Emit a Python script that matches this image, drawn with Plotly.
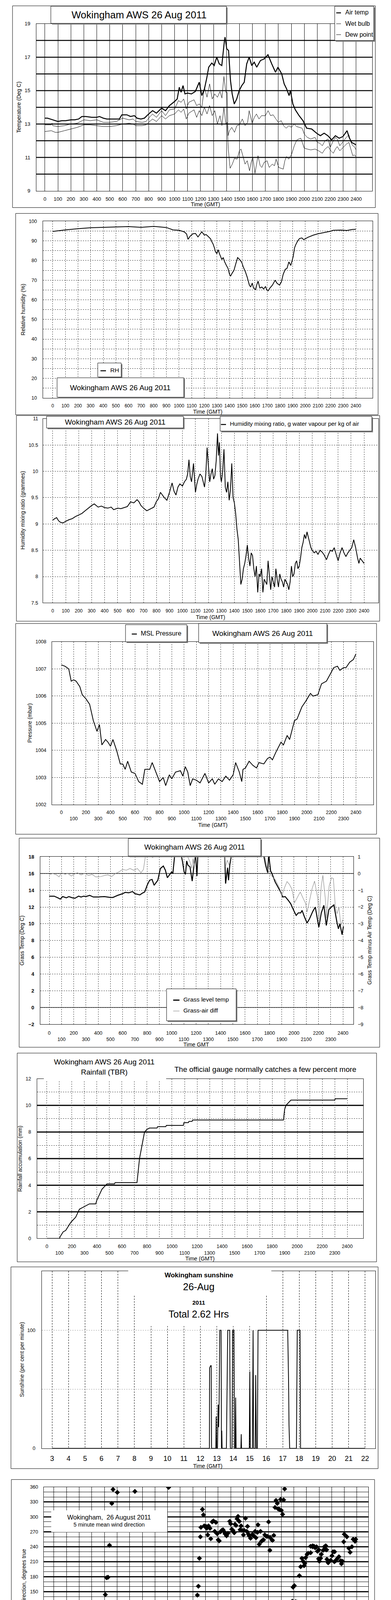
import plotly.graph_objects as go

W, H = 1000, 5000
FONT = "Liberation Sans, Arial, Helvetica, sans-serif"

# ---------------------------------------------------------------- data
HUNDREDS = list(range(0, 2401, 100))

AIR_TEMP = [(0,13.35),(20,13.35),(40,13.3),(60,13.25),(80,13.2),(100,13.15),(130,13.2),(160,13.2),(200,13.25),(230,13.25),(260,13.3),(285,13.45),(314,13.45),(360,13.4),(400,13.4),(420,13.45),(450,13.35),(478,13.3),(520,13.3),(574,13.3),(593,13.55),(632,13.55),(660,13.45),(690,13.5),(710,13.35),(740,13.3),(767,13.35),(800,13.6),(830,13.8),(860,13.65),(900,13.95),(930,13.8),(960,14.1),(1000,14.35),(1020,14.5),(1036,15.2),(1050,14.9),(1065,15.3),(1080,14.8),(1100,14.85),(1130,14.8),(1160,14.95),(1190,15.5),(1210,14.7),(1230,15.1),(1248,15.75),(1263,16.4),(1287,16.65),(1305,16.5),(1325,17.0),(1344,16.6),(1364,16.5),(1383,17.9),(1389,18.2),(1402,17.5),(1416,17.4),(1431,15.6),(1444,14.8),(1460,14.2),(1479,14.5),(1498,15.0),(1518,15.3),(1537,15.5),(1556,16.6),(1575,17.0),(1595,16.5),(1614,16.7),(1633,16.4),(1662,16.8),(1691,16.9),(1720,17.15),(1749,16.6),(1778,16.1),(1797,16.4),(1826,16.0),(1845,15.4),(1864,15.1),(1883,14.7),(1893,15.0),(1912,14.2),(1931,13.85),(1960,13.5),(1990,13.2),(2018,12.75),(2057,12.7),(2095,12.45),(2124,12.3),(2153,12.45),(2182,12.3),(2211,12.05),(2240,12.3),(2269,12.15),(2298,12.25),(2330,12.6),(2346,12.2),(2365,11.9),(2400,11.75)]

WET_BULB = [(0,12.95),(50,12.95),(55,13.05),(60,12.9),(100,12.85),(150,12.9),(200,13.0),(250,13.05),(300,13.25),(350,13.2),(400,13.25),(450,13.1),(500,13.1),(550,13.15),(600,13.35),(650,13.25),(680,13.3),(700,13.15),(750,13.1),(780,13.15),(800,13.35),(830,13.6),(860,13.4),(900,13.8),(930,13.5),(960,13.85),(1000,13.9),(1030,14.4),(1050,14.3),(1070,14.5),(1090,13.9),(1110,14.3),(1150,14.45),(1170,14.1),(1190,14.2),(1210,14.0),(1230,15.2),(1250,14.6),(1270,15.4),(1290,14.5),(1310,14.8),(1330,14.6),(1350,14.95),(1365,14.55),(1380,15.85),(1395,14.9),(1405,14.9),(1412,12.3),(1423,12.6),(1441,12.8),(1462,12.5),(1480,12.9),(1500,12.95),(1522,13.3),(1543,12.9),(1563,13.1),(1575,13.8),(1598,13.05),(1615,13.4),(1631,13.6),(1651,13.3),(1670,13.5),(1700,13.5),(1721,13.8),(1740,13.5),(1760,13.55),(1781,13.3),(1800,13.1),(1822,13.2),(1840,12.9),(1860,12.75),(1882,12.9),(1900,12.8),(1922,13.0),(1940,12.85),(1960,12.8),(1983,12.75),(2000,12.4),(2023,12.2),(2050,12.1),(2083,12.2),(2100,11.9),(2120,11.85),(2139,11.7),(2160,12.0),(2184,12.1),(2200,11.6),(2224,12.0),(2240,12.2),(2254,12.1),(2274,11.7),(2300,11.95),(2324,12.2),(2344,12.35),(2360,11.9),(2374,11.7),(2385,11.65),(2400,11.45)]

DEW_POINT = [(0,12.55),(50,12.6),(80,12.5),(100,12.5),(150,12.6),(200,12.7),(250,12.8),(300,12.95),(350,12.95),(400,12.9),(450,12.85),(500,12.85),(550,12.9),(600,13.0),(650,13.05),(680,13.0),(700,12.9),(750,12.9),(780,12.95),(800,13.1),(830,13.3),(860,13.15),(900,13.5),(930,13.3),(960,13.5),(1000,13.6),(1030,13.85),(1050,13.7),(1070,13.9),(1090,13.3),(1110,13.65),(1150,13.85),(1170,13.4),(1190,13.8),(1210,13.5),(1230,14.0),(1250,13.6),(1270,14.1),(1290,13.5),(1310,13.8),(1330,13.0),(1350,13.5),(1365,12.9),(1380,14.0),(1395,13.0),(1405,13.1),(1414,11.5),(1428,10.35),(1445,10.6),(1462,10.95),(1482,10.9),(1500,11.4),(1512,11.5),(1530,11.0),(1543,10.6),(1560,10.8),(1578,10.2),(1590,10.7),(1603,11.0),(1620,10.05),(1643,11.1),(1660,10.5),(1673,10.4),(1690,10.7),(1713,10.8),(1730,10.4),(1753,10.6),(1770,10.5),(1783,10.9),(1803,10.4),(1820,10.35),(1838,10.3),(1850,10.8),(1863,11.05),(1880,10.9),(1903,11.2),(1923,11.7),(1943,12.05),(1973,12.15),(1990,11.8),(2000,11.55),(2023,11.5),(2050,11.45),(2083,11.5),(2110,11.4),(2139,11.25),(2160,11.5),(2184,11.65),(2205,11.4),(2224,11.25),(2240,11.5),(2254,11.65),(2274,11.4),(2300,11.6),(2325,11.8),(2344,11.9),(2360,11.5),(2374,11.1),(2385,11.15),(2400,11.05)]

RH = [(0,94.8),(50,95.2),(100,95.6),(200,96.2),(300,96.7),(400,96.9),(500,97.1),(600,97.3),(700,96.9),(800,97.4),(900,96.8),(952,95.6),(1000,95.4),(1041,94.6),(1060,93.5),(1071,90.8),(1090,92.5),(1110,93.6),(1130,93.8),(1150,92.0),(1165,93.3),(1180,94.6),(1200,93.0),(1215,93.2),(1230,92.3),(1250,91.0),(1260,89.5),(1269,88.5),(1280,86.5),(1289,84.4),(1300,83.5),(1310,85.5),(1320,83.5),(1330,82.0),(1339,80.5),(1350,81.5),(1360,79.5),(1375,77.5),(1388,76.0),(1400,73.0),(1408,72.0),(1420,73.5),(1435,75.0),(1448,78.0),(1458,80.5),(1464,81.5),(1480,80.5),(1497,79.0),(1510,76.5),(1527,74.0),(1540,71.5),(1547,70.0),(1557,67.5),(1567,66.5),(1580,68.5),(1590,66.0),(1607,65.2),(1615,67.5),(1626,69.5),(1640,66.0),(1656,66.5),(1670,65.5),(1685,66.8),(1695,65.0),(1706,64.6),(1720,66.0),(1740,67.5),(1761,70.0),(1775,68.5),(1795,67.5),(1810,69.0),(1825,73.0),(1841,75.5),(1855,76.0),(1870,79.3),(1885,77.5),(1904,82.0),(1915,86.5),(1924,88.0),(1940,90.0),(1954,91.2),(1973,91.5),(1987,90.6),(2020,91.8),(2063,92.9),(2100,93.6),(2150,94.3),(2200,94.9),(2221,95.4),(2280,95.5),(2330,95.3),(2370,95.8),(2400,95.9)]

MIXING_RATIO = [(0,9.07),(15,9.1),(30,9.12),(45,9.06),(60,9.03),(80,9.02),(100,9.05),(125,9.08),(150,9.1),(175,9.14),(200,9.17),(225,9.2),(250,9.25),(275,9.3),(300,9.35),(320,9.38),(350,9.32),(375,9.34),(400,9.31),(425,9.3),(450,9.32),(470,9.27),(500,9.3),(525,9.29),(550,9.31),(575,9.33),(600,9.42),(625,9.4),(650,9.46),(665,9.42),(680,9.35),(700,9.3),(725,9.25),(750,9.28),(780,9.32),(800,9.43),(815,9.48),(830,9.6),(845,9.55),(860,9.5),(880,9.45),(900,9.6),(920,9.78),(935,9.62),(950,9.55),(965,9.7),(980,9.76),(1000,9.72),(1015,9.8),(1030,9.85),(1040,9.95),(1050,10.22),(1060,9.9),(1070,9.8),(1085,10.15),(1100,9.6),(1110,9.75),(1120,9.85),(1135,9.95),(1150,9.9),(1160,9.8),(1170,9.7),(1180,9.95),(1190,10.45),(1200,10.1),(1210,9.8),(1220,9.95),(1230,10.05),(1240,9.85),(1250,9.92),(1260,10.2),(1270,10.72),(1278,10.3),(1285,10.55),(1293,9.9),(1300,9.8),(1310,10.0),(1320,10.42),(1330,9.7),(1340,9.6),(1350,9.8),(1360,9.45),(1370,9.65),(1380,10.15),(1390,9.5),(1400,9.4),(1410,9.2),(1415,9.05),(1420,8.9),(1430,8.7),(1440,8.3),(1450,7.85),(1460,7.95),(1470,8.15),(1480,8.25),(1490,8.4),(1500,8.6),(1510,8.35),(1520,8.2),(1530,8.45),(1540,8.4),(1550,8.15),(1560,8.0),(1570,8.2),(1580,7.7),(1590,8.05),(1600,8.0),(1610,8.15),(1620,7.7),(1630,7.95),(1640,7.9),(1650,7.85),(1660,8.3),(1670,8.0),(1680,7.75),(1690,8.0),(1700,7.9),(1710,7.8),(1720,8.15),(1730,7.95),(1740,7.8),(1750,8.05),(1760,7.95),(1770,7.9),(1780,7.8),(1790,7.95),(1800,7.9),(1810,7.85),(1820,7.75),(1830,7.9),(1840,8.2),(1850,8.0),(1860,8.05),(1870,8.25),(1880,8.3),(1890,8.15),(1900,8.2),(1910,8.35),(1920,8.55),(1930,8.65),(1940,8.8),(1950,8.72),(1960,8.85),(1970,8.75),(1980,8.65),(1990,8.55),(2000,8.5),(2015,8.45),(2030,8.48),(2045,8.42),(2060,8.5),(2075,8.47),(2090,8.42),(2110,8.32),(2125,8.42),(2140,8.5),(2155,8.48),(2170,8.55),(2185,8.42),(2200,8.3),(2215,8.45),(2230,8.55),(2245,8.45),(2260,8.38),(2275,8.45),(2290,8.5),(2305,8.55),(2320,8.7),(2335,8.55),(2350,8.35),(2360,8.25),(2370,8.35),(2385,8.3),(2400,8.25)]

PRESSURE = [(0,1007.15),(30,1007.1),(60,1007.0),(80,1006.55),(100,1006.6),(120,1006.55),(150,1006.35),(170,1006.05),(200,1005.9),(230,1005.7),(260,1005.1),(290,1004.7),(310,1004.95),(330,1004.2),(360,1004.4),(380,1004.3),(400,1004.15),(420,1004.4),(450,1004.0),(480,1003.5),(500,1003.5),(520,1003.3),(540,1003.6),(570,1003.2),(600,1003.15),(630,1002.85),(660,1002.75),(680,1003.3),(720,1003.3),(740,1003.55),(770,1003.2),(800,1002.85),(830,1003.0),(850,1002.7),(880,1003.1),(900,1002.95),(930,1003.2),(970,1003.25),(990,1003.05),(1010,1003.4),(1030,1003.2),(1050,1002.7),(1070,1002.95),(1100,1002.9),(1130,1002.8),(1170,1003.15),(1200,1002.8),(1230,1002.95),(1250,1002.75),(1280,1002.95),(1310,1002.85),(1340,1003.05),(1370,1002.9),(1400,1003.1),(1420,1003.55),(1450,1003.2),(1470,1002.85),(1480,1003.3),(1500,1003.35),(1530,1003.6),(1560,1003.45),(1590,1003.35),(1610,1003.55),(1650,1003.5),(1680,1003.7),(1700,1003.75),(1720,1003.65),(1750,1003.95),(1790,1004.3),(1810,1004.2),(1840,1004.55),(1860,1004.4),(1880,1004.75),(1900,1005.1),(1920,1005.15),(1960,1005.6),(1990,1005.8),(2030,1006.1),(2050,1006.0),(2090,1006.05),(2120,1006.45),(2160,1006.55),(2190,1006.8),(2220,1007.05),(2250,1007.1),(2270,1006.95),(2300,1007.05),(2320,1007.05),(2350,1007.25),(2380,1007.35),(2400,1007.55)]

GRASS_TEMP = [(0,13.3),(40,13.3),(70,13.1),(90,12.95),(110,13.25),(140,13.1),(160,13.25),(190,13.1),(210,13.05),(240,13.3),(260,13.2),(280,13.3),(300,13.25),(330,13.4),(360,13.2),(400,13.2),(450,13.25),(500,13.15),(520,13.15),(560,13.4),(600,13.6),(620,13.75),(650,13.7),(680,13.85),(700,13.6),(740,13.45),(760,13.65),(780,13.8),(800,14.6),(820,15.2),(840,15.3),(857,14.6),(887,15.2),(908,16.6),(932,16.9),(949,16.4),(965,15.5),(980,15.8),(1000,16.2),(1010,16.0),(1027,18.5),(1060,19.5),(1088,17.5),(1102,16.2),(1113,15.9),(1123,17.5),(1133,17.0),(1150,16.8),(1158,16.0),(1168,15.1),(1183,17.0),(1195,18.3),(1207,15.7),(1215,18.5),(1300,21.0),(1430,20.0),(1441,14.8),(1457,16.7),(1465,15.2),(1475,17.0),(1492,18.5),(1600,21.0),(1748,18.5),(1768,17.0),(1785,16.1),(1793,18.3),(1809,16.3),(1820,16.0),(1846,15.0),(1871,14.3),(1891,13.8),(1908,13.2),(1928,13.25),(1953,12.8),(1973,12.4),(2004,11.4),(2018,11.0),(2035,11.3),(2055,11.3),(2066,11.6),(2086,10.8),(2107,10.1),(2127,10.6),(2154,11.5),(2174,12.0),(2203,9.6),(2223,11.3),(2244,12.2),(2264,9.8),(2285,11.7),(2305,12.0),(2326,12.25),(2352,10.1),(2363,9.4),(2375,10.0),(2393,8.7),(2404,9.7)]

GRASS_AIR_DIFF = [(0,-0.05),(30,0.0),(60,-0.08),(80,-0.2),(100,0.05),(130,-0.05),(150,0.02),(180,-0.15),(200,-0.05),(230,0.05),(260,-0.08),(290,0.02),(320,-0.12),(350,-0.05),(380,-0.2),(420,-0.18),(450,-0.12),(480,-0.08),(510,-0.18),(540,0.0),(570,0.1),(600,0.25),(630,0.2),(660,0.3),(690,0.2),(720,0.3),(750,0.05),(770,0.25),(790,1.25),(846,0.95),(870,1.5),(1100,1.5),(1150,0.7),(1165,0.3),(1175,0.9),(1185,0.4),(1195,1.25),(1430,1.5),(1440,0.4),(1455,0.8),(1470,0.5),(1490,1.25),(1748,1.5),(1785,0.25),(1800,0.0),(1850,-0.4),(1881,-0.85),(1902,-1.3),(1922,-0.85),(1943,-0.48),(1963,-0.65),(1984,-0.95),(2004,-1.75),(2025,-1.45),(2051,-1.1),(2076,-1.5),(2096,-1.8),(2107,-2.3),(2127,-1.65),(2148,-0.9),(2168,-0.45),(2195,-1.5),(2203,-2.75),(2223,-0.75),(2236,-0.1),(2256,-1.5),(2266,-2.65),(2287,-0.75),(2307,-0.25),(2322,-0.3),(2338,-2.0),(2352,-2.4),(2367,-2.0),(2383,-3.1),(2400,-2.75)]

RAINFALL = [(0,0),(100,0),(110,0.2),(130,0.5),(150,0.6),(170,0.9),(190,1.2),(210,1.4),(230,1.6),(250,2.0),(260,2.2),(280,2.3),(300,2.4),(320,2.5),(340,2.6),(390,2.6),(400,2.9),(420,3.3),(440,3.7),(460,3.9),(480,4.1),(540,4.1),(545,4.2),(720,4.2),(740,6.0),(760,7.0),(780,8.0),(800,8.2),(820,8.3),(880,8.3),(885,8.4),(950,8.4),(955,8.5),(1090,8.5),(1095,8.7),(1130,8.7),(1135,8.8),(1160,8.8),(1165,8.9),(1890,8.9),(1900,9.7),(1910,10.0),(1930,10.2),(1950,10.4),(2300,10.4),(2305,10.5),(2400,10.5)]

HOURS_SUN = list(range(3, 23))
SUNSHINE = [(3,0),(12.55,0),(12.56,68),(12.62,70),(12.66,70),(12.68,0),(12.94,0),(12.96,27),(12.99,0),(13.04,0),(13.08,37),(13.11,18),(13.14,40),(13.18,100),(13.26,100),(13.28,0),(13.3,15),(13.32,0),(13.58,0),(13.66,100),(13.78,100),(13.82,0),(13.92,0),(13.96,100),(14.04,100),(14.07,0),(14.12,0),(14.14,43),(14.17,0),(14.46,0),(14.48,12),(14.5,0),(14.97,0),(15.0,65),(15.03,0),(15.16,0),(15.2,100),(15.23,0),(15.33,0),(15.36,62),(15.4,0),(15.46,0),(15.5,100),(17.3,100),(17.35,60),(17.38,20),(17.42,0),(17.83,0),(17.88,100),(18.05,100),(18.08,0),(22,0)]

HOURS = list(range(0, 25))
WIND_DIRECTION = [(4.68,355),(5.02,349),(4.58,327),(6.41,351),(9.08,359),(4.40,243),(11.76,315),(11.84,304),(11.60,260),(11.64,279),(11.9,282),(12.04,281),(12.10,277),(12.24,282),(12.18,264),(12.36,277),(12.42,256),(12.53,290),(12.63,292),(12.73,271),(12.83,289),(12.93,266),(13.01,254),(13.09,252),(13.19,270),(13.29,273),(13.39,274),(13.45,271),(13.55,266),(13.67,262),(13.78,267),(13.92,291),(14.0,286),(14.08,275),(14.18,273),(14.28,268),(14.34,285),(14.42,283),(14.5,296),(14.58,301),(14.68,291),(14.74,274),(14.82,282),(14.9,273),(15.01,264),(15.07,273),(15.17,297),(15.27,271),(15.33,281),(15.41,265),(15.47,262),(15.57,257),(15.73,265),(15.81,262),(15.93,271),(16.0,258),(16.12,269),(16.16,284),(16.26,245),(16.36,271),(16.44,251),(16.52,253),(16.6,254),(16.7,264),(16.82,261),(16.92,261),(17.0,290),(17.12,259),(17.26,254),(17.31,253),(17.41,263),(17.1,233),(17.51,319),(17.59,333),(17.69,327),(17.75,316),(17.85,315),(17.95,335),(18.01,313),(18.11,305),(18.19,334),(18.27,356),(23.0,265),(23.2,260),(22.95,250),(23.7,255),(23.9,255),(23.85,251),(20.49,242),(20.6,241),(20.8,240),(20.98,234),(21.53,242),(21.6,234),(22.23,230),(20.33,228),
(0.04,69),(0.18,75),(0.34,77),(0.28,65),(0.40,63),(0.50,68),(0.56,52),(0.69,45),(0.79,45),(0.85,56),(0.93,50),(1.03,63),(1.15,52),(1.25,65),(1.37,58),(1.45,45),(1.49,45),(1.61,64),(1.73,67),(1.84,68),(1.94,60),(2.02,60),(2.08,63),(2.18,69),(2.28,71),(2.38,64),(2.48,69),(2.58,73),(2.68,74),(2.78,84),(2.84,82),(2.92,95),(3.01,114),(3.09,114),(3.17,72),(3.33,87),(3.43,86),(3.51,92),(3.59,93),(3.67,105),(3.77,104),(3.87,102),(3.79,95),(3.97,118),(4.07,144),(4.17,178),(4.28,179),(4.52,21),(4.80,11),(4.86,19),(4.92,18),(5.06,0),(5.18,38),(5.26,34),(5.34,25),(5.41,23),(5.49,26),(5.61,33),(5.69,53),(5.81,61),(5.91,51),(5.99,37),(6.09,28),(6.17,68),(6.25,15),(6.37,14),(6.45,16),(6.56,10),(6.64,16),(6.76,9),(6.88,10),(6.98,13),(7.10,20),(7.16,23),(7.24,37),(7.36,27),(7.44,26),(7.50,45),(7.58,106),(7.68,41),(7.75,21),(7.85,19),(7.95,20),(8.03,27),(8.17,35),(8.27,22),(8.39,28),(8.49,26),(8.59,10),(8.67,25),(8.77,23),(8.87,17),(8.92,21),(9.02,10),(9.18,30),(9.24,41),(9.32,86),(9.42,63),(9.54,42),(9.62,33),(9.68,36),(9.78,29),(9.88,30),(9.86,60),(10.02,57),(10.10,77),(10.17,63),(10.27,24),(10.37,50),(10.51,86),(10.57,50),(10.67,67),(10.77,33),(10.91,90),(10.97,97),(11.03,117),(11.07,104),(11.19,84),(11.27,117),(11.36,143),(11.44,161),(11.52,217),
(18.35,18),(18.46,16),(18.46,4),(18.6,29),(18.68,34),(18.78,98),(18.88,131),(18.94,159),(19.04,162),(19.14,130),(19.24,129),(19.34,127),(19.28,106),(19.44,182),(19.54,200),(19.64,217),(19.73,211),(19.81,202),(19.87,207),(19.93,218),(20.05,225),(20.13,227),(20.33,241),(20.49,240),(20.69,238),(20.87,231),(20.96,216),(21.02,211),(21.12,217),(21.18,225),(21.32,233),(21.42,240),(21.56,234),(21.62,215),(21.72,208),(21.92,213),(22.02,222),(22.11,230),(22.21,210),(22.31,212),(22.43,216),(22.57,220),(22.71,212),(22.77,206),(22.85,211),(23.36,237),(23.46,229),(23.60,240)]

MEAN_SPEED = [(0,1.6),(0.2,2.2),(0.5,2.5),(0.8,2.6),(1.0,2.2),(1.3,2.0),(1.5,2.3),(1.7,1.7),(1.9,2.0),(2.0,2.8),(2.3,2.9),(2.6,3.0),(2.8,3.6),(3.0,4.5),(3.1,2.1),(3.3,2.8),(3.5,3.5),(3.6,4.8),(3.8,2.8),(4.0,2.7),(4.2,2.0),(4.4,1.5),(4.5,1.0),(4.6,0.5),(4.8,1.8),(5.0,2.0),(5.3,1.8),(5.5,1.5),(5.8,1.6),(6.0,1.4),(6.2,1.2),(6.5,1.5),(6.8,2.2),(7.0,2.8),(7.2,2.5),(7.4,2.0),(7.6,3.5),(7.7,1.0),(7.9,2.2),(8.2,2.5),(8.5,3.2),(8.7,2.4),(9.0,2.1),(9.3,1.9),(9.6,2.6),(9.9,2.8),(10.2,2.4),(10.5,2.2),(10.7,1.7),(11.0,1.8),(11.2,1.5),(11.4,2.2),(11.6,1.2),(11.7,2.8),(12.0,3.5),(12.2,4.3),(12.5,3.0),(12.7,1.2),(13.0,3.5),(13.2,4.0),(13.5,4.8),(13.8,5.0),(14.0,5.5),(14.2,6.5),(14.4,8.0),(14.5,7.0),(14.7,6.8),(15.0,3.8),(15.2,6.0),(15.4,6.3),(15.6,5.0),(15.8,3.5),(16.0,4.8),(16.3,3.2),(16.6,4.3),(16.9,3.5),(17.2,3.5),(17.5,3.0),(17.8,3.5),(18.0,2.5),(18.3,3.0),(18.6,3.2),(18.9,1.6),(19.1,3.3),(19.3,2.5),(19.5,2.0),(19.8,3.5),(20.1,4.0),(20.4,4.5),(20.7,4.0),(20.9,4.0),(21.0,3.0),(21.3,2.6),(21.6,2.6),(21.9,2.8),(22.1,2.0),(22.4,2.2),(22.7,2.5),(23.0,3.5),(23.3,2.8),(23.6,2.6),(24.0,2.8)]

GUST_SPEED = [(0,3.5),(0.15,2.8),(0.3,4.5),(0.45,3.2),(0.6,3.0),(0.75,4.6),(0.9,5.5),(1.05,3.2),(1.2,3.0),(1.35,4.2),(1.5,4.0),(1.65,2.6),(1.8,3.5),(1.9,4.8),(2.0,5.5),(2.15,3.8),(2.3,4.5),(2.45,6.0),(2.6,7.0),(2.7,5.2),(2.8,6.0),(2.9,8.5),(3.0,5.5),(3.1,4.5),(3.2,3.5),(3.35,6.0),(3.45,5.0),(3.55,9.5),(3.7,5.0),(3.8,3.8),(3.9,4.5),(4.05,3.6),(4.2,3.5),(4.3,2.8),(4.4,2.5),(4.5,1.5),(4.6,1.0),(4.7,2.0),(4.8,2.8),(4.95,2.0),(5.1,3.0),(5.25,2.2),(5.4,2.5),(5.55,3.0),(5.7,3.0),(5.85,2.0),(6.0,2.5),(6.15,1.8),(6.3,2.2),(6.45,3.2),(6.6,4.0),(6.7,3.5),(6.8,5.5),(6.9,4.2),(7.0,3.5),(7.15,4.5),(7.3,5.0),(7.4,3.6),(7.5,3.5),(7.6,5.0),(7.7,1.5),(7.8,3.5),(7.9,5.0),(8.05,3.2),(8.2,3.5),(8.3,4.5),(8.4,5.3),(8.55,3.8),(8.7,3.5),(8.85,4.4),(9.0,3.0),(9.15,2.6),(9.3,3.5),(9.45,4.0),(9.6,5.0),(9.7,3.8),(9.8,4.0),(9.95,5.2),(10.1,4.5),(10.25,3.2),(10.4,3.5),(10.55,4.0),(10.7,3.0),(10.85,3.5),(11.0,3.0),(11.15,2.2),(11.3,2.5),(11.4,3.5),(11.5,4.0),(11.6,2.0),(11.7,5.5),(11.85,4.8),(12.0,6.5),(12.15,5.2),(12.3,7.0),(12.4,5.5),(12.5,5.0),(12.6,3.5),(12.7,2.0),(12.85,4.5),(13.0,6.0),(13.15,5.6),(13.3,7.5),(13.45,6.5),(13.6,8.0),(13.75,7.0),(13.9,10.0),(14.0,8.5),(14.1,11.0),(14.2,13.0),(14.3,17.0),(14.35,13.5),(14.4,19.0),(14.45,13.0),(14.5,12.0),(14.6,16.5),(14.7,12.5),(14.75,11.0),(14.9,8.0),(15.0,6.0),(15.1,7.5),(15.2,9.5),(15.3,8.0),(15.45,11.0),(15.55,8.0),(15.6,7.0),(15.75,6.5),(15.9,6.0),(16.05,7.2),(16.2,7.5),(16.35,5.5),(16.5,6.5),(16.65,5.8),(16.8,7.0),(16.9,6.0),(17.0,5.0),(17.15,4.2),(17.3,6.0),(17.45,5.2),(17.6,4.5),(17.7,6.0),(17.8,7.5),(17.9,5.0),(18.0,4.0),(18.15,3.2),(18.3,5.0),(18.45,4.0),(18.6,4.5),(18.7,3.8),(18.8,3.0),(18.9,5.0),(19.0,9.0),(19.1,6.5),(19.2,5.5),(19.35,4.8),(19.5,4.0),(19.65,5.2),(19.8,6.0),(19.95,5.0),(20.1,6.5),(20.25,5.8),(20.4,7.0),(20.55,6.0),(20.7,6.5),(20.8,5.5),(20.9,7.0),(21.0,4.5),(21.15,3.5),(21.3,4.0),(21.45,3.2),(21.6,5.0),(21.75,3.8),(21.9,4.5),(22.0,3.5),(22.1,3.0),(22.25,3.8),(22.4,4.0),(22.55,3.0),(22.7,3.5),(22.85,4.5),(23.0,6.5),(23.1,5.2),(23.2,6.0),(23.3,5.5),(23.45,4.2),(23.6,4.0),(23.75,3.5),(23.9,4.5),(24.0,5.5)]

SPEED_X10 = [(0.06,16.7),(0.1,19.2),(0.15,18.3),(0.02,16.0),(0.21,22.8),(0.29,24.9),(0.33,24.0),(0.39,23.3),(0.46,25.5),(0.54,27.3),(0.6,28.7),(0.64,29.6),(0.68,26.4),(0.73,28.2),(0.77,24.6),(0.83,22.6),(0.87,21.0),(0.91,19.7),(0.98,20.6),(1.06,21.9),(1.12,20.6),(1.22,22.4),(1.25,19.2),(1.33,17.4),(1.39,14.7),(1.41,14.0),(1.49,19.7),(1.54,21.5),(1.6,23.7),(1.64,18.8),(1.7,20.6),(1.78,22.6),(1.83,25.5),(1.89,24.6),(1.97,26.9),(2.03,28.7),(2.08,31.4),(2.12,33.2),(2.16,30.5),(2.22,29.6),(2.28,28.2),(2.33,29.2),(2.41,30.3),(2.45,27.3),(2.51,29.2),(2.57,32.8),(2.6,34.6),(2.66,35.9),(2.72,38.6),(2.76,37.5),(2.8,36.2),(2.86,37.1),(3.05,39.3),(3.1,32.8),(3.14,31.0),(3.18,29.6),(3.18,22.4),(3.22,21.0),(3.26,20.1),(3.28,24.0),(3.32,30.3),(3.38,32.8),(3.42,35.9),(3.38,38.2),(3.47,28.2),(3.57,39.5),(3.63,35.9),(3.67,33.7),(3.69,30.7),(3.72,28.7),(3.76,26.4),(3.8,24.2),(3.86,23.3),(3.92,28.2),(3.96,26.9),(4.01,26.0),(4.05,21.9),(4.11,20.1),(4.19,18.3),(4.26,16.5),(4.34,14.7),(4.38,12.4),(4.44,10.2),(4.48,8.8),(4.53,7.0),(4.57,5.6),(4.61,3.4),(4.69,10.2),(4.73,13.8),(4.77,16.5),(4.82,17.9),(4.88,19.2),(4.96,20.1),(5.02,20.6),(5.07,18.8),(5.15,17.4),(5.23,12.9),(5.31,11.5),(5.36,14.7),(5.42,16.5),(5.5,18.3),(5.56,20.6),(5.61,17.4),(5.69,15.6),(5.77,13.8),(5.85,14.7),(5.92,12.9),(6.0,14.2),(6.08,15.6),(6.15,13.8),(6.23,12.0),(6.27,11.1),(6.35,16.5),(6.41,20.1),(6.46,22.4),(6.52,24.6),(6.62,26.9),(6.68,32.3),(6.73,30.9),(6.81,28.2),(6.89,26.4),(6.95,29.2),(7.0,30.3),(7.06,27.8),(7.12,22.8),(7.18,21.0),(7.22,18.8),(7.25,16.0),(7.29,13.3),(7.35,15.1),(7.39,17.9),(7.45,22.4),(7.51,27.3),(7.54,33.7),(7.58,30.1),(7.62,22.8),(7.68,12.4),(7.74,7.9),(7.72,6.1),(7.74,5.2),(7.79,17.4),(7.85,18.8),(7.91,23.7),(7.97,29.2),(8.05,26.9),(8.1,25.1),(8.16,31.0),(8.2,31.9),(8.28,28.2),(8.34,26.9),(8.39,29.2),(8.45,34.6),(8.51,35.0),(8.57,31.4),(8.62,28.2),(8.68,26.4),(8.74,22.8),(8.8,24.6),(8.86,27.8),(8.91,21.0),(8.97,19.2),(9.03,16.5),(9.09,15.1),(9.15,18.3),(9.2,21.9),(9.26,20.6),(9.32,22.4),(9.38,15.1),(9.43,17.4),(9.49,21.5),(9.55,25.5),(9.63,28.2),(9.69,30.5),(9.74,29.2),(9.82,31.4),(9.88,27.3),(9.94,28.7),(10.01,24.6),(10.07,22.8),(10.13,26.4),(10.19,24.6),(10.24,23.7),(10.3,26.9),(10.36,21.9),(10.44,19.2),(10.5,16.5),(10.55,14.7),(10.61,18.3),(10.67,20.6),(10.73,21.9),(10.79,18.3),(10.84,15.6),(10.9,13.3),(10.96,16.5),(11.02,19.2),(11.07,24.6),(11.13,25.5),(11.19,21.5),(11.25,16.5),(11.31,14.7),(11.36,12.9),(11.4,11.1),(11.46,12.0),(11.52,13.8),(11.58,16.5),(11.63,20.1),(11.67,22.8),(11.71,26.0),(11.75,28.7),(11.79,33.2),(11.83,36.4),(11.87,38.2),(11.9,39.1),(11.96,35.0),(12.02,32.3),(12.06,29.6),(12.12,31.9),(12.17,31.4),(12.25,37.3),(12.31,39.5),(12.37,35.9),(12.44,38.2),(12.5,33.2),(12.56,28.2),(12.6,23.7),(12.64,19.7),(12.68,16.0),(12.71,12.9),(12.75,18.3),(12.81,21.0),(12.87,25.5),(12.93,30.1),(12.99,33.7),(13.02,35.9),(13.06,32.3),(13.12,36.8),(13.18,40.0),(15.18,38.6),(15.24,37.5),(15.76,39.5),(16.21,35.5),(16.26,33.2),(16.3,31.4),(16.34,28.7),(16.38,26.4),(16.42,36.4),(16.5,39.5),(16.55,38.6),(16.61,40.0),(16.69,35.0),(16.75,39.1),(16.81,37.3),(16.86,33.7),(16.92,31.4),(16.98,36.4),(17.04,32.8),(17.09,26.9),(17.15,23.7),(17.21,25.5),(17.27,28.2),(17.33,30.5),(17.38,32.8),(17.44,29.2),(17.5,31.4),(17.58,28.7),(17.65,34.6),(17.73,37.7),(17.79,39.5),(17.85,36.8),(17.91,33.7),(17.96,31.9),(18.04,38.6),(18.1,35.0),(18.16,32.8),(18.21,28.7),(18.27,25.1),(18.33,21.5),(18.39,17.9),(18.44,20.1),(18.5,23.7),(18.56,27.8),(18.62,32.8),(18.68,35.5),(18.71,39.1),(18.77,26.9),(18.83,23.7),(18.89,14.7),(18.93,13.3),(18.99,18.8),(19.02,26.0),(19.08,29.2),(19.14,32.8),(19.2,39.1),(19.25,31.0),(19.31,32.3),(19.39,33.7),(19.45,29.6),(19.51,26.0),(19.56,22.4),(19.62,20.6),(19.68,28.2),(19.74,32.3),(19.8,37.3),(19.85,39.5),(19.91,35.9),(19.97,34.1),(20.03,38.2),(20.08,32.8),(20.14,37.3),(20.2,35.5),(20.26,38.2),(20.93,39.5),(20.97,37.3),(21.02,35.0),(21.07,31.4),(21.13,28.2),(21.18,26.4),(21.24,26.0),(21.3,22.8),(21.36,26.9),(21.44,22.4),(21.49,25.5),(21.55,26.4),(21.63,30.1),(21.69,28.2),(21.74,31.4),(21.8,31.4),(21.88,27.8),(21.94,26.4),(22.0,28.2),(22.05,24.6),(22.11,23.7),(22.17,21.9),(22.23,19.7),(22.28,20.6),(22.34,23.3),(22.4,24.6),(22.46,23.7),(22.52,24.6),(22.57,25.5),(22.63,22.8),(22.69,20.1),(22.75,23.3),(22.81,25.5),(22.86,30.1),(22.92,32.8),(22.98,35.0),(23.04,35.5),(23.1,33.7),(23.16,31.9),(23.21,30.1),(23.27,27.3),(23.35,26.4),(23.41,26.0),(23.47,26.9),(23.52,26.0),(23.6,24.6),(23.68,26.4),(23.73,27.8),(23.79,29.2),(23.85,30.1),(23.91,28.7),(23.98,29.6)]


def xs(pairs):
    return [p[0] for p in pairs]


def ys(pairs):
    return [p[1] for p in pairs]


# ---------------------------------------------------------------- helpers
def px(x):
    return x / W


def py(y):
    return 1 - y / H


fig = go.Figure()
shapes, annos, layout = [], [], {}


def rect(x0, y0, x1, y1, fill="rgba(0,0,0,0)", color="black", width=1, layer="above"):
    shapes.append(dict(type="rect", xref="paper", yref="paper", x0=px(x0), x1=px(x1),
                       y0=py(y1), y1=py(y0), fillcolor=fill,
                       line=dict(color=color, width=width), layer=layer))


def tbox(x0, y0, x1, y1):
    rect(x0 + 3, y0 + 3, x1 + 3, y1 + 3, fill="#7f7f7f", color="#7f7f7f", width=0)
    rect(x0, y0, x1, y1, fill="white")


def seg(x0, y0, x1, y1, color="black", width=1):
    shapes.append(dict(type="line", xref="paper", yref="paper", x0=px(x0), x1=px(x1),
                       y0=py(y0), y1=py(y1), line=dict(color=color, width=width), layer="above"))


def hline(n, val, width, color="black"):
    xr = "x domain" if n == 1 else f"x{n} domain"
    yr = "y" if n == 1 else f"y{n}"
    shapes.append(dict(type="line", xref=xr, yref=yr, x0=0, x1=1, y0=val, y1=val,
                       line=dict(color=color, width=width), layer="below"))


def txt(x, y, s, size, xanchor="center", angle=0, weight="normal"):
    annos.append(dict(xref="paper", yref="paper", x=px(x), y=py(y), text=s, showarrow=False,
                      xanchor=xanchor, yanchor="middle", textangle=angle,
                      font=dict(family=FONT, size=size, color="black", weight=weight)))


def axes(n, l, r, t, b, xr, yr, xo, yo):
    xk = "xaxis" if n == 1 else f"xaxis{n}"
    yk = "yaxis" if n == 1 else f"yaxis{n}"
    xa = "x" if n == 1 else f"x{n}"
    ya = "y" if n == 1 else f"y{n}"
    base = dict(showline=True, mirror=True, linecolor="black", linewidth=1, zeroline=False,
                ticks="", tickangle=0, fixedrange=True, showgrid=False)
    d = dict(base); d.update(domain=[px(l), px(r)], range=xr, anchor=ya); d.update(xo)
    layout[xk] = d
    d = dict(base); d.update(domain=[py(b), py(t)], range=yr, anchor=xa); d.update(yo)
    layout[yk] = d
    return xa, ya


def tf(size=13, weight="normal"):
    return dict(family=FONT, size=size, color="black", weight=weight)


def hund_text(two_rows):
    if not two_rows:
        return [str(v) for v in HUNDREDS]
    return [str(v) if (v // 100) % 2 == 0 else "<br>" + str(v) for v in HUNDREDS]


DOT = dict(showgrid=True, gridcolor="#333333", gridwidth=1, griddash="dot")

# ---------------------------------------------------------------- panel 1 temperature
rect(32, 8, 960, 526, layer="below")
xa, ya = axes(1, 93, 952, 54, 483, [-66, 2524], [9, 19],
              dict(tickvals=HUNDREDS, ticktext=hund_text(False), showgrid=True, gridcolor="black",
                   gridwidth=1, tickfont=tf(13), ticklabelstandoff=9),
              dict(tickvals=[9, 11, 13, 15, 17, 19], tickfont=tf(13), ticklabelstandoff=12))
for v in range(10, 19):
    hline(1, v, 2.5)
fig.add_trace(go.Scatter(x=xs(DEW_POINT), y=ys(DEW_POINT), mode="lines", line=dict(color="black", width=1), xaxis=xa, yaxis=ya, showlegend=False))
fig.add_trace(go.Scatter(x=xs(WET_BULB), y=ys(WET_BULB), mode="lines", line=dict(color="black", width=1), xaxis=xa, yaxis=ya, showlegend=False))
fig.add_trace(go.Scatter(x=xs(AIR_TEMP), y=ys(AIR_TEMP), mode="lines", line=dict(color="black", width=2.5), xaxis=xa, yaxis=ya, showlegend=False))
tbox(130, 9, 579, 53)
txt(355, 31, "Wokingham AWS 26 Aug 2011", 25.5)
tbox(856, 9, 956, 97)
seg(860, 26, 872, 26, width=2.5); txt(881, 25, "Air temp", 16, xanchor="left")
seg(860, 54, 872, 54); txt(881, 54, "Wet bulb", 16, xanchor="left")
seg(860, 82, 872, 82); txt(881, 82, "Dew point", 16, xanchor="left")
txt(48, 268, "Temperature (Deg C)", 14, angle=-90)
txt(525, 518, "Time (GMT)", 14)

# ---------------------------------------------------------------- panel 2 RH
rect(40, 541, 967, 1058, layer="below")
xa, ya = axes(2, 110, 953, 561, 1015, [-77, 2533], [10, 100],
              dict(tickvals=HUNDREDS, ticktext=hund_text(False), tickfont=tf(12), ticklabelstandoff=9, **DOT),
              dict(tickvals=list(range(10, 101, 10)), tickfont=tf(12.5), ticklabelstandoff=12,
                   minor=dict(tickvals=list(range(15, 100, 10)), **DOT), **DOT))
fig.add_trace(go.Scatter(x=xs(RH), y=ys(RH), mode="lines", line=dict(color="black", width=2), xaxis=xa, yaxis=ya, showlegend=False))
tbox(250, 925, 310, 961)
seg(257, 945, 271, 945, width=2.5); txt(280, 943, "RH", 15.5, xanchor="left")
tbox(146, 963, 470, 1013)
txt(307, 988, "Wokingham AWS 26 Aug 2011", 19)
txt(59, 788, "Relative humidity (%)", 14, angle=-90)
txt(531, 1050, "Time (GMT)", 14)

# ---------------------------------------------------------------- panel 3 mixing ratio
rect(42, 1060, 971, 1588, layer="below")
xa, ya = axes(3, 110, 968, 1068, 1541, [-75, 2511], [7.5, 11],
              dict(tickvals=HUNDREDS, ticktext=hund_text(False), tickfont=tf(12), ticklabelstandoff=9, **DOT),
              dict(tickvals=[7.5, 8, 8.5, 9, 9.5, 10, 10.5, 11], ticktext=["7.5", "8", "8.5", "9", "9.5", "10", "10.5", "11"],
                   tickfont=tf(12.5), ticklabelstandoff=9, **DOT))
fig.add_trace(go.Scatter(x=xs(MIXING_RATIO), y=ys(MIXING_RATIO), mode="lines", line=dict(color="black", width=2), xaxis=xa, yaxis=ya, showlegend=False))
tbox(119, 1062, 469, 1092)
txt(294, 1077, "Wokingham AWS 26 Aug 2011", 19)
tbox(563, 1062, 951, 1100)
seg(565, 1083, 578, 1083, width=2.5)
txt(586, 1081, "Humidity mixing ratio, g water vapour per kg of air", 15, xanchor="left")
txt(58, 1304, "Humidity mixing ratio (grammes)", 14, angle=-90)
txt(538, 1578, "Time (GMT)", 14)

# ---------------------------------------------------------------- panel 4 pressure
rect(40, 1594, 963, 2135, layer="below")
xa, ya = axes(4, 133, 955, 1641, 2059, [-76.5, 2543], [1002, 1008],
              dict(tickvals=HUNDREDS, ticktext=hund_text(True), tickfont=tf(12.5), ticklabelstandoff=8, **DOT),
              dict(tickvals=list(range(1002, 1009)), tickfont=tf(12.5), ticklabelstandoff=11, **DOT))
fig.add_trace(go.Scatter(x=xs(PRESSURE), y=ys(PRESSURE), mode="lines", line=dict(color="black", width=2), xaxis=xa, yaxis=ya, showlegend=False))
tbox(321, 1597, 478, 1641)
seg(337, 1621, 350, 1621, width=2.5); txt(358, 1619, "MSL Pressure", 16.5, xanchor="left")
tbox(508, 1594, 836, 1643)
txt(671, 1619, "Wokingham AWS 26 Aug 2011", 19)
txt(76, 1850, "Pressure (mbar)", 14, angle=-90)
txt(544, 2111, "Time (GMT)", 14)

# ---------------------------------------------------------------- panel 5 grass
rect(49, 2145, 971, 2682, layer="below")
xa, ya = axes(5, 103, 904, 2193, 2623, [-73.5, 2486], [-2, 18],
              dict(tickvals=HUNDREDS, ticktext=hund_text(True), tickfont=tf(12.5), ticklabelstandoff=11, **DOT),
              dict(tickvals=list(range(-2, 19, 2)), tickfont=tf(13, "bold"), ticklabelstandoff=12, **DOT))
layout["yaxis10"] = dict(domain=[py(2623), py(2193)], range=[-9, 1], overlaying="y5", anchor="x5", side="right",
                         tickvals=list(range(-9, 2)), showgrid=False, zeroline=False, showline=False,
                         tickfont=tf(12.5), ticklabelstandoff=10, fixedrange=True)
hline(5, 16, 1.5)
hline(5, 0, 1.5)
fig.add_trace(go.Scatter(x=xs(GRASS_AIR_DIFF), y=ys(GRASS_AIR_DIFF), mode="lines", line=dict(color="#8c8c8c", width=1.2), xaxis=xa, yaxis="y10", showlegend=False))
fig.add_trace(go.Scatter(x=xs(GRASS_TEMP), y=ys(GRASS_TEMP), mode="lines", line=dict(color="black", width=2.5), xaxis=xa, yaxis=ya, showlegend=False))
tbox(328, 2146, 667, 2191)
txt(497, 2168, "Wokingham AWS 26 Aug 2011", 19)
tbox(426, 2532, 604, 2614)
seg(443, 2561, 459, 2561, width=3); txt(467, 2559, "Grass level temp", 15.5, xanchor="left")
seg(443, 2589, 459, 2589, color="#8c8c8c", width=1.2); txt(467, 2587, "Grass-air diff", 15.5, xanchor="left")
txt(56, 2408, "Grass Temp (Deg C)", 14, angle=-90)
txt(945, 2408, "Grass Temp minus Air Temp (Deg C)", 14, angle=-90)
txt(502, 2675, "Time GMT", 14)

# ---------------------------------------------------------------- panel 6 rainfall
rect(44, 2697, 963, 3233, layer="below")
xa, ya = axes(6, 95, 929, 2763, 3173, [-78, 2528], [0, 12],
              dict(tickvals=HUNDREDS, ticktext=hund_text(True), tickfont=tf(12.5), ticklabelstandoff=9, **DOT),
              dict(tickvals=list(range(0, 13, 2)), tickfont=tf(12.5), ticklabelstandoff=12,
                   minor=dict(tickvals=list(range(1, 12, 2)), **DOT)))
for v in range(2, 11, 2):
    hline(6, v, 3)
fig.add_trace(go.Scatter(x=xs(RAINFALL), y=ys(RAINFALL), mode="lines", line=dict(color="black", width=2), xaxis=xa, yaxis=ya, showlegend=False))
rect(112, 2757, 425, 2769, fill="white", color="white", width=0)
txt(266, 2720, "Wokingham AWS 26 Aug 2011", 19)
txt(266, 2746, "Rainfall (TBR)", 19)
txt(678, 2739, "The official gauge normally catches a few percent more", 19)
txt(51, 2968, "Rainfall accumulation (mm)", 14, angle=-90)
txt(511, 3225, "Time (GMT)", 14)

# ---------------------------------------------------------------- panel 7 sunshine
rect(28, 3246, 967, 3764, layer="below")
xa, ya = axes(7, 107, 960, 3257, 3712, [2.38, 22.62], [0, 150],
              dict(tickvals=HOURS_SUN, tickfont=tf(18), ticklabelstandoff=10,
                   showgrid=True, gridcolor="black", gridwidth=1, griddash="4px,3px"),
              dict(tickvals=[0, 50, 100, 150], ticktext=["0", "", "100", ""], tickfont=tf(12.5), ticklabelstandoff=13,
                   showgrid=True, gridcolor="#9a9a9a", gridwidth=1, griddash="dot"))
fig.add_trace(go.Scatter(x=xs(SUNSHINE), y=ys(SUNSHINE), mode="lines", line=dict(color="black", width=2), xaxis=xa, yaxis=ya, showlegend=False))
rect(328, 3250, 694, 3320, fill="white", color="white", width=0)
rect(350, 3318, 670, 3398, fill="white", color="white", width=0)
txt(508, 3267, "Wokingham sunshine", 17, weight="bold")
txt(508, 3297, "26-Aug", 25)
txt(508, 3338, "2011", 15, weight="bold")
txt(508, 3367, "Total 2.62 Hrs", 25)
txt(56, 3484, "Sunshine (per cent per minute)", 14, angle=-90)
txt(531, 3757, "Time (GMT)", 14)

# ---------------------------------------------------------------- panel 8 wind direction
rect(29, 3792, 958, 4322, layer="below")
xa, ya = axes(8, 112, 942, 3811, 4272, [-0.805, 24.9], [0, 360],
              dict(tickvals=HOURS, tickfont=tf(12.5), ticklabelstandoff=10,
                   showgrid=True, gridcolor="black", gridwidth=1),
              dict(tickvals=list(range(0, 361, 30)), tickfont=tf(12.5), ticklabelstandoff=11,
                   minor=dict(tickvals=[v for v in range(10, 360, 10) if v % 30], showgrid=True, gridcolor="black", gridwidth=1)))
for v in range(30, 331, 30):
    hline(8, v, 3)
fig.add_trace(go.Scatter(x=xs(WIND_DIRECTION), y=ys(WIND_DIRECTION), mode="markers",
                         marker=dict(symbol="diamond", size=10, color="black"), xaxis=xa, yaxis=ya, showlegend=False))
rect(131, 3871, 428, 3927, fill="white", color="white", width=0)
txt(279, 3889, "Wokingham,  26 August 2011", 16.5)
txt(279, 3908, "5 minute mean wind direction", 14)
txt(61, 4041, "Direction, degrees true", 14, angle=-90)
txt(525, 4309, "Time (GMT)", 15)

# ---------------------------------------------------------------- panel 9 wind speed
rect(29, 4330, 962, 4847, layer="below")
xa, ya = axes(9, 88, 942, 4374, 4772, [-0.72, 25.0], [0, 50],
              dict(tickvals=HOURS[:24], ticktext=[("%02d:00" % h) if h % 2 == 0 else "<br>%02d:00" % h for h in HOURS[:24]],
                   tickfont=tf(12.5), ticklabelstandoff=10,
                   minor=dict(tickvals=[24], **DOT), **DOT),
              dict(tickvals=list(range(0, 51, 10)), tickfont=tf(12.5), ticklabelstandoff=12,
                   minor=dict(tickvals=list(range(5, 50, 10)), **DOT), **DOT))
fig.add_trace(go.Scatter(x=xs(SPEED_X10), y=ys(SPEED_X10), mode="markers",
                         marker=dict(symbol="diamond", size=10, color="#c4c4c4", line=dict(color="#222222", width=1)),
                         xaxis=xa, yaxis=ya, showlegend=False))
fig.add_trace(go.Scatter(x=xs(GUST_SPEED), y=ys(GUST_SPEED), mode="lines", line=dict(color="#404040", width=1), xaxis=xa, yaxis=ya, showlegend=False))
fig.add_trace(go.Scatter(x=xs(MEAN_SPEED), y=ys(MEAN_SPEED), mode="lines", line=dict(color="black", width=2), xaxis=xa, yaxis=ya, showlegend=False))
rect(93, 4368, 436, 4380, fill="white", color="white", width=0)
txt(263, 4353, "Wokingham,  26 August 2011", 18.5)
txt(576, 4342, "Wind speed, 10 min mean / max gust", 14)
txt(576, 4361, "Speeds below 4 kt shown at x10 scale", 14)
tbox(731, 4337, 956, 4362)
seg(764, 4351, 775, 4351, width=2.5); txt(783, 4349, "Speed x 1", 11.5, xanchor="left")
shapes.append(dict(type="path", xref="paper", yref="paper",
                   path="M %f,%f L %f,%f L %f,%f L %f,%f Z" % (px(856), py(4344), px(860), py(4350), px(856), py(4356), px(852), py(4350)),
                   fillcolor="#c4c4c4", line=dict(color="#222222", width=1), layer="above"))
txt(868, 4349, "Speed / 10", 11.5, xanchor="left")
txt(955, 4774, "0", 12, weight="bold")
txt(44, 4573, "Speed (knots)", 14, angle=-90)
txt(514, 4824, "Time (GMT)", 15)

# ---------------------------------------------------------------- layout
fig.update_layout(width=W, height=H, margin=dict(l=0, r=0, t=0, b=0), autosize=False,
                  paper_bgcolor="white", plot_bgcolor="white", showlegend=False,
                  shapes=shapes, annotations=annos, **layout)

fig.write_html("out.html", post_script="document.body.style.margin='0';", config={"displayModeBar": False})
